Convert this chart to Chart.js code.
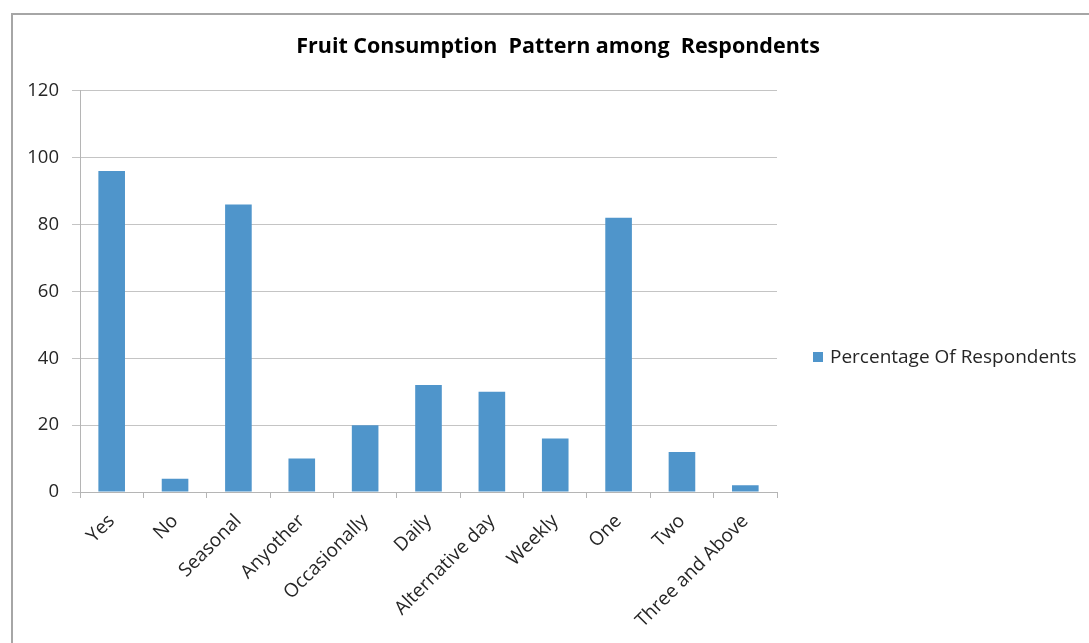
<!DOCTYPE html>
<html>
<head>
<meta charset="utf-8">
<script src="https://cdn.jsdelivr.net/npm/chart.js@4"></script>
<style>
  body { margin: 0; background: #fff; overflow: hidden; }
  #wrap { position: relative; width: 1089px; height: 643px; }
  #frame { position: absolute; left: 11px; top: 13px; width: 1100px; height: 700px; border: 2px solid #a6a6a6; box-sizing: border-box; }
  canvas { position: absolute; left: 0; top: 0; }
</style>
</head>
<body>
<div id="wrap">
  <div id="frame"></div>
  <canvas id="grafico" width="1089" height="643"></canvas>
</div>
<script>
// Datos del gráfico
const categorias = ['Yes', 'No', 'Seasonal', 'Anyother', 'Occasionally', 'Daily', 'Alternative day', 'Weekly', 'One', 'Two', 'Three and Above'];
const porcentajes = [96, 4, 86, 10, 20, 32, 30, 16, 82, 12, 2];
const nombreSerie = 'Percentage Of Respondents';
const titulo = 'Fruit Consumption  Pattern among  Respondents';
const colorBarra = '#4F95CB';

const fuente = '"Open Sans", Lato, sans-serif';
Chart.defaults.font.family = fuente;
Chart.defaults.color = '#262626';

// Leyenda a la derecha, centrada como en Excel
const leyendaDerecha = {
    id: 'leyendaDerecha',
    afterDraw(chart) {
        const ctx = chart.ctx;
        const ds = chart.data.datasets[0];
        const x = chart.chartArea.right + 36;
        const y = 357;
        ctx.save();
        ctx.fillStyle = ds.backgroundColor;
        ctx.fillRect(x, y - 5, 10, 10);
        ctx.fillStyle = '#262626';
        ctx.font = '19px ' + fuente;
        ctx.textBaseline = 'middle';
        ctx.fillText(ds.label, x + 17, y + 1);
        ctx.restore();
    }
};

new Chart(document.getElementById('grafico'), {
    type: 'bar',
    data: {
        labels: categorias,
        datasets: [{ label: nombreSerie, data: porcentajes, backgroundColor: colorBarra, borderWidth: 0, barPercentage: 0.42, categoryPercentage: 1 }]
    },
    options: {
        responsive: false,
        animation: false,
        layout: { padding: { left: 27, right: 0, top: 0, bottom: 0 } },
        plugins: {
            title: { display: true, text: titulo, font: { size: 21.5, weight: 'bold' }, color: '#000', padding: { top: 34, bottom: 31 } },
            legend: { display: false },
            tooltip: { enabled: false }
        },
        scales: {
            x: {
                grid: { drawOnChartArea: false, drawTicks: true, tickLength: 6, color: '#b5b5b5' },
                border: { color: '#b5b5b5' },
                ticks: { maxRotation: 45, minRotation: 45, autoSkip: false, font: { size: 19 }, color: '#262626', padding: 12 },
                afterFit: s => { s.height = 151; }
            },
            y: {
                min: 0, max: 120,
                grid: { color: '#c4c4c4', tickLength: 8 },
                border: { color: '#b5b5b5' },
                ticks: { stepSize: 20, font: { size: 18.5 }, color: '#262626', padding: 13 },
                afterFit: s => { s.width = 53; }
            },
            // espacio reservado para la leyenda
            espacio: {
                type: 'linear', position: 'right', display: true,
                grid: { display: false }, border: { display: false }, ticks: { display: false },
                afterFit: s => { s.width = 312; }
            }
        }
    },
    plugins: [leyendaDerecha]
});
</script>
</body>
</html>
